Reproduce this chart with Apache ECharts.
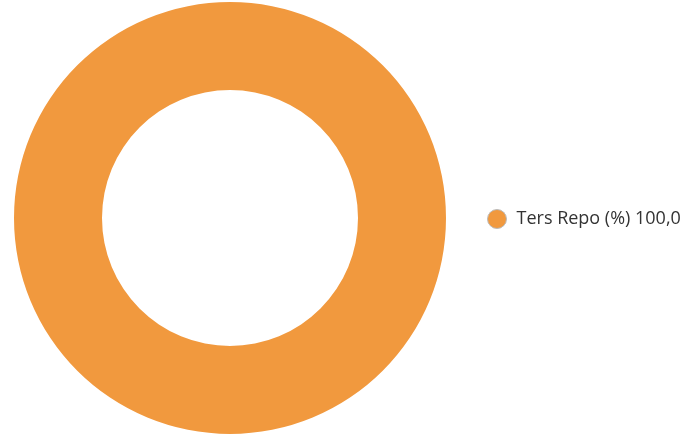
<!DOCTYPE html>
<html><head><meta charset="utf-8">
<script src="https://cdn.jsdelivr.net/npm/echarts@6/dist/echarts.min.js"></script>
<style>html,body{margin:0;padding:0;background:#fff}#c{width:699px;height:438px}</style>
</head><body><div id="c"></div>
<script>
const categories = ['Ters Repo (%)'];
const values = [100.0];
const colors = ['#F1993E'];

const chart = echarts.init(document.getElementById('c'), null, {renderer: 'canvas'});
const fmt = v => v.toFixed(1).replace('.', ',');
chart.setOption({
  animation: false,
  color: colors,
  legend: {
    orient: 'vertical',
    left: 482, top: 'middle',
    icon: 'circle', itemWidth: 19, itemHeight: 19,
    itemStyle: {borderColor: '#bbb', borderWidth: 1},
    textStyle: {fontFamily: 'Open Sans', fontSize: 18, color: '#333', padding: [0, 0, 0, 5]},
    formatter: name => name + ' ' + fmt(values[categories.indexOf(name)]),
    data: categories
  },
  series: [{
    type: 'pie',
    center: [230, 218],
    radius: [128, 216],
    label: {show: false},
    labelLine: {show: false},
    silent: true,
    data: categories.map((c, i) => ({name: c, value: values[i]}))
  }]
});
</script></body></html>
